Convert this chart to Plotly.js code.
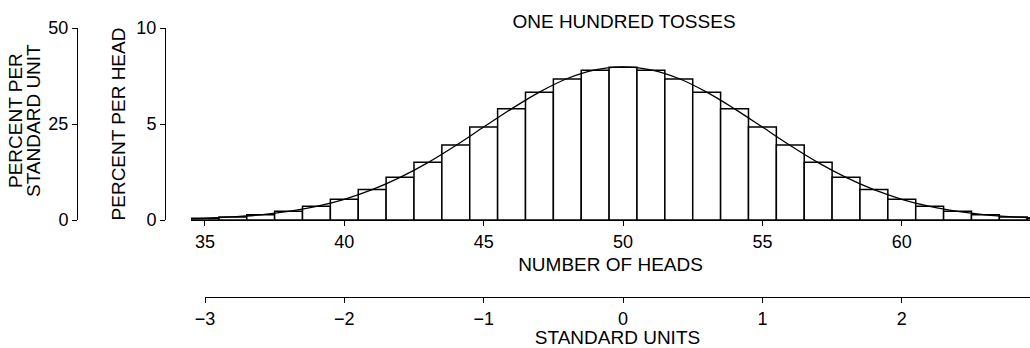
<!DOCTYPE html>
<html>
<head>
<meta charset="utf-8">
<script src="https://cdn.plot.ly/plotly-3.0.1.min.js"></script>
<style>html,body{margin:0;padding:0;background:#fff;}#chart{width:1030px;height:348px;}</style>
</head>
<body>
<div id="chart"></div>
<script>
// Number of heads in 100 tosses (bar centres)
const heads = [35,36,37,38,39,40,41,42,43,44,45,46,47,48,49,50,51,52,53,54,55,56,57,58,59,60,61,62,63,64,65];
// Histogram heights, percent per head
const percentPerHead = [0.09,0.16,0.27,0.45,0.71,1.08,1.59,2.23,3.01,3.90,4.85,5.80,6.66,7.35,7.80,7.96,7.80,7.35,6.66,5.80,4.85,3.90,3.01,2.23,1.59,1.08,0.71,0.45,0.27,0.16,0.09];
// Normal curve, read at each whole number of heads
const curveHeads = [34,35,36,37,38,39,40,41,42,43,44,45,46,47,48,49,50,51,52,53,54,55,56,57,58,59,60,61,62,63,64,65,66];
const curveValues = [0.048,0.089,0.16,0.27,0.45,0.71,1.08,1.58,2.22,2.99,3.88,4.84,5.79,6.66,7.37,7.82,7.98,7.82,7.37,6.66,5.79,4.84,3.88,2.99,2.22,1.58,1.08,0.71,0.45,0.27,0.16,0.089,0.048];
// Tick labels
const headTicks = [35,40,45,50,55,60];
const headTickText = ["35","40","45","50","55","60"];
const perHeadTicks = [0,5,10];
const perSUTicks = [0,25,50];
const suTicks = [-3,-2,-1,0,1,2];
const suTickText = ["\u22123","\u22122","\u22121","0","1","2"];

const W = 1030, H = 348;
const px = v => v / W;
const py = v => 1 - v / H;

const FONT = "Liberation Sans, Arial, Helvetica, sans-serif";

const traces = [
  {
    type: "bar", x: heads, y: percentPerHead, width: 1,
    marker: {color: "#ffffff", line: {color: "#000000", width: 1.5}},
    hoverinfo: "skip", showlegend: false
  },
  {
    type: "scatter", mode: "lines", x: curveHeads, y: curveValues,
    line: {color: "#000000", width: 1.3, shape: "spline", smoothing: 1},
    hoverinfo: "skip", showlegend: false
  },
  {type: "scatter", mode: "lines", x: [], y: [], yaxis: "y2", hoverinfo: "skip", showlegend: false},
  {type: "scatter", mode: "lines", x: [], y: [], xaxis: "x2", hoverinfo: "skip", showlegend: false}
];

const axisCommon = {
  showgrid: false, zeroline: false, showline: true,
  linecolor: "#000000", linewidth: 1, ticks: "outside", ticklen: 5, tickwidth: 1,
  tickcolor: "#000000", tickfont: {family: FONT, size: 18, color: "#000000"},
  fixedrange: true
};

const yDomain = [py(220), py(28)];

const layout = {
  width: W, height: H,
  margin: {l: 0, r: 0, t: 0, b: 0, pad: 0},
  paper_bgcolor: "#ffffff", plot_bgcolor: "rgba(0,0,0,0)",
  font: {family: FONT, size: 18, color: "#000000"},
  showlegend: false, bargap: 0,
  title: {text: "ONE HUNDRED TOSSES", x: px(624), xanchor: "center", xref: "paper",
          y: py(21), yanchor: "middle", yref: "paper", font: {family: FONT, size: 19, color: "#000000"}},
  xaxis: Object.assign({}, axisCommon, {
    domain: [px(191), 1], range: [34.5, 64.6], anchor: "y",
    tickmode: "array", tickvals: headTicks, ticktext: headTickText,
    title: {text: "NUMBER OF HEADS", font: {family: FONT, size: 19, color: "#000000"}, standoff: 7}
  }),
  xaxis2: Object.assign({}, axisCommon, {
    domain: [px(205), 1], range: [-3, 2.92], anchor: "free", position: py(297),
    tickmode: "array", tickvals: suTicks, ticktext: suTickText,
    title: {text: "STANDARD UNITS", font: {family: FONT, size: 19, color: "#000000"}, standoff: 6}
  }),
  yaxis: Object.assign({}, axisCommon, {
    domain: yDomain, range: [0, 10], anchor: "free", position: px(165), side: "left",
    tickmode: "array", tickvals: perHeadTicks,
    title: {text: "PERCENT PER HEAD", font: {family: FONT, size: 19, color: "#000000"}, standoff: 4}
  }),
  yaxis2: Object.assign({}, axisCommon, {
    domain: yDomain, range: [0, 50], anchor: "free", position: px(77), side: "left",
    overlaying: "y", tickmode: "array", tickvals: perSUTicks
  }),
  annotations: [
    {text: "PERCENT PER", xref: "paper", yref: "paper", x: px(16), y: py(121),
     xanchor: "center", yanchor: "middle", textangle: -90, showarrow: false,
     font: {family: FONT, size: 19, color: "#000000"}},
    {text: "STANDARD UNIT", xref: "paper", yref: "paper", x: px(34), y: py(121),
     xanchor: "center", yanchor: "middle", textangle: -90, showarrow: false,
     font: {family: FONT, size: 19, color: "#000000"}}
  ]
};

Plotly.newPlot("chart", traces, layout, {displayModeBar: false, staticPlot: true});
</script>
</body>
</html>
